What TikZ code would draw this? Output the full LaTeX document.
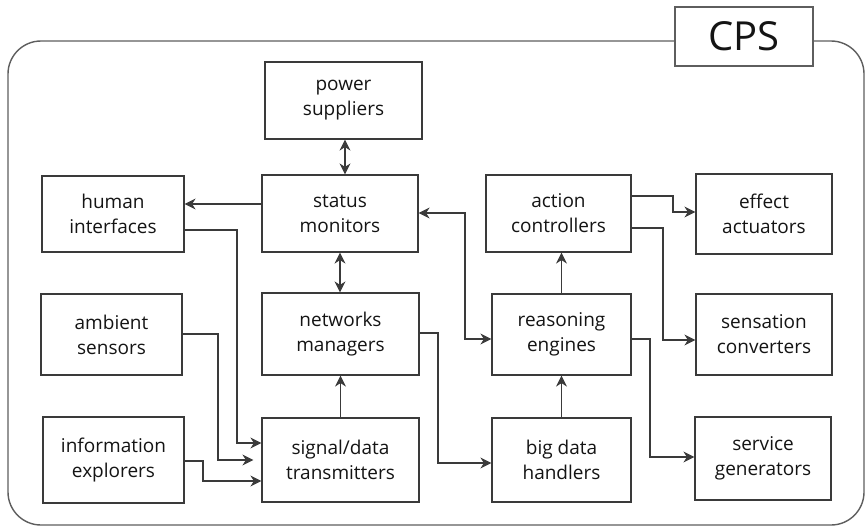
\documentclass[tikz,border=0pt]{standalone}
\usepackage{fontspec}
\setmainfont{Open Sans}
\usetikzlibrary{arrows.meta}
\definecolor{linegray}{HTML}{3A3A3A}
\definecolor{framegray}{HTML}{5E5E5E}
\definecolor{textdark}{HTML}{141414}
\begin{document}
\begin{tikzpicture}[x=1pt,y=-1pt,
  tip/.tip={Stealth[length=11pt,width=11pt,inset=3.5pt]},
  box/.style={draw=linegray, line width=1.2pt, fill=white, inner sep=0pt,
    align=center, text=textdark, font=\fontsize{19}{25}\selectfont},
  arr/.style={draw=linegray, line width=1.1pt, -tip},
  arrtwo/.style={draw=linegray, line width=1.1pt, tip-tip}
]
\useasboundingbox (0,0) rectangle (866,528);

% system frame with its title tab
\draw[framegray, line width=1.4pt, rounded corners=33pt] (8,41) rectangle (864,525);
\node[box, draw=framegray, minimum width=138pt, minimum height=59pt,
  font=\fontsize{40}{44}\selectfont] (cps) at (744,36.5) {CPS};

% components
\node[box, minimum width=157pt, minimum height=77pt] (pow) at (343.5,100.5) {power\\suppliers};
\node[box, minimum width=142pt, minimum height=76pt] (hum) at (113,214) {human\\interfaces};
\node[box, minimum width=156pt, minimum height=77pt] (sta) at (340,213.5) {status\\monitors};
\node[box, minimum width=145pt, minimum height=77pt] (act) at (558.5,213.5) {action\\controllers};
\node[box, minimum width=136pt, minimum height=80pt] (eff) at (764,214) {effect\\actuators};
\node[box, minimum width=141pt, minimum height=81pt] (amb) at (111.5,334.5) {ambient\\sensors};
\node[box, minimum width=157pt, minimum height=82pt] (net) at (340.5,334) {networks\\managers};
\node[box, minimum width=139pt, minimum height=81pt] (rea) at (561.5,334.5) {reasoning\\engines};
\node[box, minimum width=136pt, minimum height=81pt] (sen) at (764,334.5) {sensation\\converters};
\node[box, minimum width=141pt, minimum height=86pt] (inf) at (113.5,460) {information\\explorers};
\node[box, minimum width=157pt, minimum height=84pt] (sig) at (340.5,460) {signal/data\\transmitters};
\node[box, minimum width=139pt, minimum height=84pt] (big) at (561.5,460) {big data\\handlers};
\node[box, minimum width=136pt, minimum height=83pt] (ser) at (763,458.5) {service\\generators};

% connections
\draw[arrtwo] (pow.south -| 345,0) -- (sta.north -| 345,0);
\draw[arrtwo] (sta.south -| 340,0) -- (net.north -| 340,0);
\draw[arr] (sta.west |- 0,204) -- (hum.east |- 0,204);
\draw[arr] (hum.east |- 0,230) -| (237,443) -- (sig.west |- 0,443);
\draw[arr, shorten >=8pt] (amb.east |- 0,334) -| (218,460) -- (sig.west |- 0,460);
\draw[arr] (inf.east |- 0,461) -| (203,481) -- (sig.west |- 0,481);
\draw[arr] (sig.north) -- (net.south);
\draw[arr] (net.east |- 0,333) -| (438,463) -- (big.west |- 0,463);
\draw[arr] (big.north) -- (rea.south);
\draw[arr] (rea.north) -- (act.south -| rea.north);
\draw[arrtwo] (sta.east |- 0,213) -| (465,339) -- (rea.west |- 0,339);
\draw[arr] (act.east |- 0,196) -| (673,212) -- (eff.west |- 0,212);
\draw[arr] (act.east |- 0,228) -| (663,340) -- (sen.west |- 0,340);
\draw[arr] (rea.east |- 0,339) -| (650,457) -- (ser.west |- 0,457);
\end{tikzpicture}
\end{document}
